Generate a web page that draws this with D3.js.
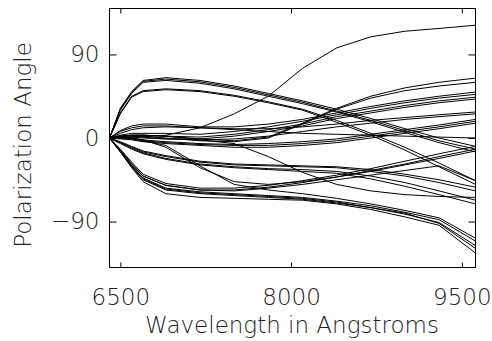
<!DOCTYPE html>
<html>
<head>
<meta charset="utf-8">
<script src="https://cdn.jsdelivr.net/npm/d3@7"></script>
<style>
  body { margin: 0; background: #fff; }
  text { font-family: "DejaVu Sans", sans-serif; font-weight: 200; fill: #222; }
</style>
</head>
<body>
<div id="chart"></div>
<script>
// sample wavelengths (Angstroms)
const wavelengths = [6405, 6500, 6600, 6700, 6900, 7200, 7500, 7800, 8100, 8400, 8700, 9000, 9300, 9620]

// polarization angle curves, grouped by how they look in the plot
const risingTop = [
  [0, 0.5, 1, 1.5, 3, 11, 26, 45, 75, 97, 109, 115, 118, 121.5]
]
const upperArc = [
  [0, 32, 50, 62, 65, 62, 56, 48, 40, 31, 21, 10, 0, -9],
  [0, 31, 49, 61, 63.5, 60.5, 54.5, 46.5, 38.5, 29, 19, 8, -3, -12],
  [0, 30, 48, 60, 62, 59, 53, 45, 37, 28, 17.5, 6, -5, -15]
]
const secondArc = [
  [0, 27, 45, 51, 53, 51, 46, 39, 31, 19, 5, -10, -27, -46],
  [0, 26, 44, 50, 52, 50, 45, 38, 30, 17, 3, -13, -31, -50]
]
const zeroBand = [
  [0, 2, 3, 3, 2, -1, -3, 1, 16, 32, 45, 54, 60, 64.5],
  [0, 1.5, 2.5, 2, 0, -3, -4, 0, 15, 31, 43, 51, 56, 60],
  [0, 8, 13, 15, 15, 12, 12, 15, 20, 27, 34, 40, 45, 49.5],
  [0, 3, 5, 5, 5, 4, 7, 12, 18, 25, 32, 38, 43, 47],
  [0, 2, 3, 3, 2, 1, 4, 9, 15, 23, 29, 35, 40, 44],
  [0, 1, 1, 0, -1, -1, 2, 7, 13, 21, 27, 33, 38, 42],
  [0, 7, 11, 13, 13, 11, 10, 10, 12, 15, 19, 22, 25, 28],
  [0, 2, 2, 1, -1, -2, -1, 2, 7, 12, 16, 20, 23, 26],
  [0, 1, 0, -2, -4, -6, -7, -6, -4, -1, 4, 9, 14, 20],
  [0, 0, -1, -3, -5, -7, -8, -8, -6, -3, 2, 7, 12, 18],
  [0, -1, -2, -4, -6, -8, -10, -10, -8, -5, 0, 5, 10, 16],
  [0, 5, 9, 11, 12, 11, 9, 7, 5, 4, 3, 2, 1, 0],
  [0, 2, 3, 3, 2, -2, -6, -20, -37, -50, -57, -61, -63, -64]
]
const dropping = [
  [0, 1, 0, -2, -10, -32, -47, -50, -47, -42, -36, -29, -22, -14],
  [0, 0, -1, -3, -8, -30, -50, -56, -60, -65, -71, -78, -86, -108]
]
const lowerFlat = [
  [0, -4, -9, -14, -19, -25, -28, -29, -30, -31, -34, -39, -45, -53],
  [0, -5, -10, -15, -20, -26, -29, -30, -31, -32, -36, -41, -48, -57],
  [0, -5, -11, -16, -22, -28, -31, -33, -34, -36, -41, -48, -57, -67],
  [0, -6, -12, -17, -23, -29, -32, -34, -36, -38, -44, -52, -61, -71]
]
const lowerRising = [
  [0, -12, -26, -39, -49, -54, -54, -51, -46, -40, -33, -25, -17, -9],
  [0, -13, -28, -41, -51, -56, -56, -53, -48, -42, -35, -28, -20, -12],
  [0, -13, -28, -41, -51, -56, -57, -54, -50, -45, -40, -35, -30, -46]
]
const lowerFalling = [
  [0, -14, -30, -43, -54, -58, -60, -62, -64, -68, -73, -80, -88, -111],
  [0, -14, -30, -44, -55, -59, -61, -63, -65, -69, -75, -82, -91, -116],
  [0, -15, -31, -45, -56, -60, -62, -64, -66, -70, -75, -81, -92, -119],
  [0, -15, -32, -47, -60, -64, -65, -66, -67, -71, -77, -85, -94, -124]
]

const xTicks = [6500, 8000, 9500]
const yTicks = [-90, 0, 90]

const width = 492,
      height = 341

const svg = d3.select('#chart')
  .append('svg')
  .attr('width', width)
  .attr('height', height)

const x = d3.scaleLinear()
  .domain([6405, 9620])
  .range([109.5, 475.5])

const y = d3.scaleLinear()
  .domain([-139.5, 139.5])
  .range([267.5, 8.5])

const curves = [].concat(risingTop, upperArc, secondArc, zeroBand, dropping,
                         lowerFlat, lowerRising, lowerFalling)

const line = d3.line()
  .x(function(d, i) { return x(wavelengths[i]) })
  .y(function(d) { return y(d) })

svg.append('g')
  .selectAll('path')
  .data(curves)
  .enter().append('path')
  .attr('d', line)
  .attr('fill', 'none')
  .attr('stroke', '#000')
  .attr('stroke-width', 1)

// frame
svg.append('rect')
  .attr('x', 109.5)
  .attr('y', 8.5)
  .attr('width', 366)
  .attr('height', 259)
  .attr('fill', 'none')
  .attr('stroke', '#000')

function styleAxis(g) {
  g.select('.domain').remove()
  g.selectAll('.tick line').attr('stroke', '#000')
  g.selectAll('.tick text')
    .attr('font-size', 23)
    .attr('font-family', null)
}

svg.append('g')
  .attr('transform', 'translate(0,267.5)')
  .call(d3.axisBottom(x).tickValues(xTicks).tickSize(-5).tickPadding(21)
    .tickFormat(d3.format('d')))
  .call(styleAxis)

svg.append('g')
  .attr('transform', 'translate(0,8.5)')
  .call(d3.axisTop(x).tickValues(xTicks).tickSize(-5).tickFormat(''))
  .call(styleAxis)

svg.append('g')
  .attr('transform', 'translate(109.5,0)')
  .call(d3.axisLeft(y).tickValues(yTicks).tickSize(-7).tickPadding(10)
    .tickFormat(function(d) { return d < 0 ? '\u2212' + (-d) : d }))
  .call(styleAxis)

svg.append('g')
  .attr('transform', 'translate(475.5,0)')
  .call(d3.axisRight(y).tickValues(yTicks).tickSize(-7).tickFormat(''))
  .call(styleAxis)

svg.append('text')
  .attr('x', 292)
  .attr('y', 333)
  .attr('text-anchor', 'middle')
  .attr('font-size', 23)
  .text('Wavelength in Angstroms')

svg.append('text')
  .attr('transform', 'translate(31,145) rotate(-90)')
  .attr('text-anchor', 'middle')
  .attr('font-size', 23)
  .text('Polarization Angle')
</script>
</body>
</html>
